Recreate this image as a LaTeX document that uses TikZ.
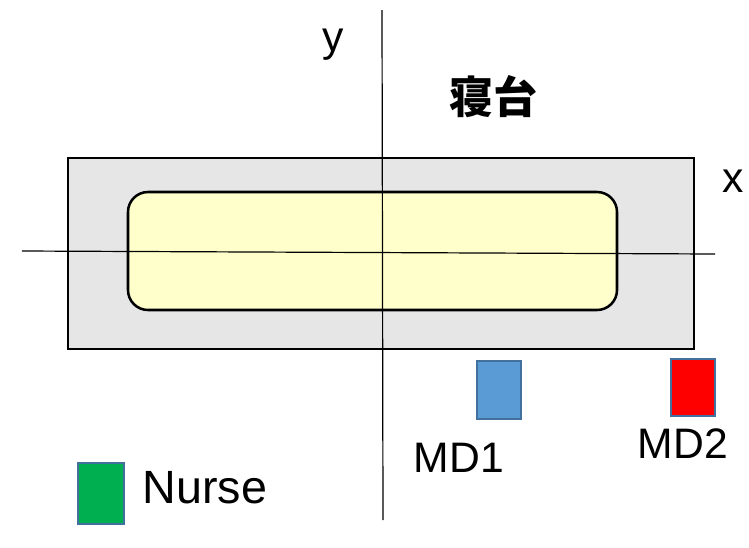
\documentclass[tikz,border=0pt]{standalone}
\usepackage{fontspec}
\setmainfont{Liberation Sans}
\newfontfamily\cjk{Noto Sans CJK JP}
\definecolor{bedgray}{HTML}{E6E6E6}
\definecolor{matyellow}{HTML}{FFFFCC}
\definecolor{mdblue}{HTML}{5B9BD5}
\definecolor{edgeblue}{HTML}{41719C}
\definecolor{nursegreen}{HTML}{00B050}
\begin{document}
\begin{tikzpicture}[x=0.75pt,y=-0.75pt,
  lbl/.style={font=\fontsize{32}{36}\selectfont, inner sep=0pt, anchor=base},
  marker/.style={draw=edgeblue, line width=1.5pt, anchor=north west, inner sep=0pt, minimum width=#1},
  axis/.style={draw=black, line width=0.9pt}]
\useasboundingbox (0,0) rectangle (749,547);
% bed frame
\draw[fill=bedgray, line width=1.9pt] (68,158) rectangle (694,349);
\draw[fill=matyellow, line width=1.9pt, rounded corners=15] (128,192) rectangle (617,310);
% axes
\coordinate (xl) at (22,251);
\coordinate (xr) at (715,254);
\coordinate (yt) at (382,10);
\coordinate (yb) at (383,520);
\draw[axis] (xl) -- (xr);
\draw[axis] (yt) -- (yb);
% labels
\node[lbl] (ylab) at (333,51) {y};
\node[lbl] (xlab) at (733,192) {x};
\node[font=\cjk\bfseries\fontsize{33}{36}\selectfont, inner sep=0pt] (bed) at (493,97) {寝台};
% markers
\node[marker=44*0.75pt, minimum height=58*0.75pt, fill=mdblue] (md1) at (476,360) {};
\node[marker=44*0.75pt, minimum height=57*0.75pt, fill=red] (md2) at (670,358) {};
\node[marker=46*0.75pt, minimum height=61*0.75pt, fill=nursegreen] (nurse) at (77,462) {};
\node[lbl] (md1l) at (459,472) {MD1};
\node[lbl] (md2l) at (683,458) {MD2};
\node[lbl, font=\fontsize{35}{40}\selectfont] (nursel) at (205,503) {Nurse};
\end{tikzpicture}
\end{document}
